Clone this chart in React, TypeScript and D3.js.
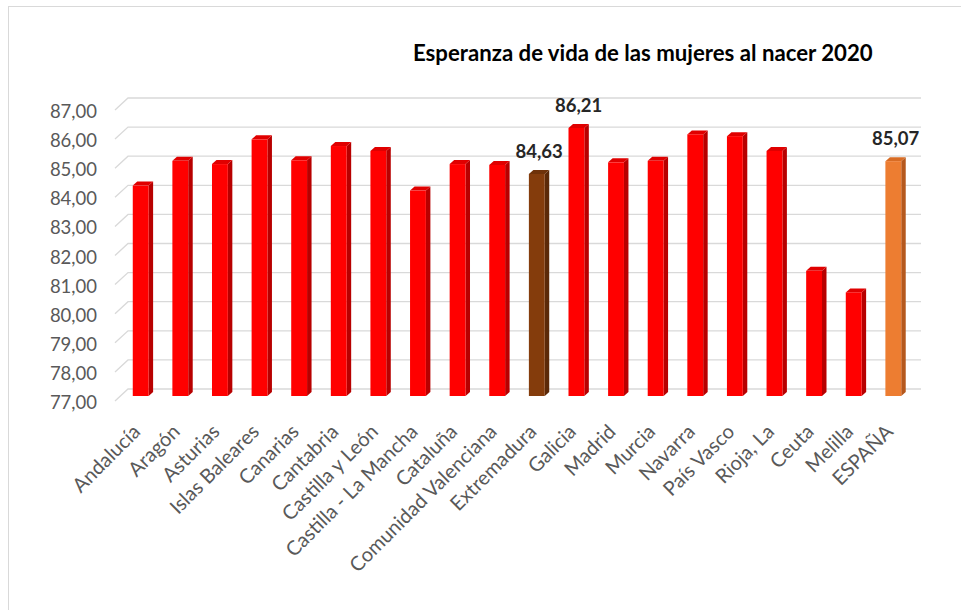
import { useMemo } from "react";
import * as d3 from "d3";

// Esperanza de vida de las mujeres al nacer 2020 — 3D-look column chart
const categories = [
  "Andalucía", "Aragón", "Asturias", "Islas Baleares", "Canarias", "Cantabria",
  "Castilla y León", "Castilla - La Mancha", "Cataluña", "Comunidad Valenciana",
  "Extremadura", "Galicia", "Madrid", "Murcia", "Navarra", "País Vasco",
  "Rioja, La", "Ceuta", "Melilla", "ESPAÑA",
];
const values = [
  84.23, 85.08, 84.97, 85.82, 85.1, 85.59, 85.42, 84.06, 84.97, 84.94,
  84.63, 86.21, 85.03, 85.08, 85.99, 85.93, 85.42, 81.3, 80.56, 85.07,
];
// categories whose value is written above the bar
const labelled = ["Extremadura", "Galicia", "ESPAÑA"];
const yTicks = [77, 78, 79, 80, 81, 82, 83, 84, 85, 86, 87];

const TITLE = "Esperanza de vida de las mujeres al nacer 2020";

// face colours: [front, side, top]
const RED = ["#ff0000", "#b80000", "#e00000"];
const BROWN = ["#843c0c", "#5c2908", "#6f320a"];
const ORANGE = ["#ed7d31", "#b5581d", "#d86c24"];
const colourFor = (c: string) =>
  c === "Extremadura" ? BROWN : c === "ESPAÑA" ? ORANGE : RED;

const fmt = (v: number) => v.toFixed(2).replace(".", ",");

export default function App() {
  const W = 961;
  const H = 610;

  // depth offsets of the fake 3D
  const wallDx = 13;
  const wallDy = 12;
  const barDx = 4.5;
  const barDy = 4;

  const x = useMemo(
    () => d3.scaleBand<string>().domain(categories).range([109, 925]).padding(0.6),
    [],
  );
  const y = useMemo(() => d3.scaleLinear().domain([77, 87]).range([396, 105]), []);
  const y0 = y(77);

  const font = "Lato, 'Open Sans', sans-serif";

  return (
    <svg
      width={W}
      height={H}
      viewBox={`0 0 ${W} ${H}`}
      style={{ position: "absolute", left: 0, top: 0, background: "#fff" }}
    >
      <rect x={8.5} y={6.5} width={W} height={H} fill="#fff" stroke="#d9d9d9" />

      <text
        x={413}
        y={61}
        fontFamily={font}
        fontWeight={700}
        fontSize={22.2}
        fill="#000"
      >
        {TITLE}
      </text>

      {/* back-wall gridlines with the slanted floor edge on the left */}
      <g stroke="#d9d9d9" strokeWidth={1.3} fill="none">
        {yTicks.map((t) => {
          const yb = y(t) - 7;
          return (
            <path
              key={t}
              d={`M115,${yb + wallDy}L${115 + wallDx},${yb}L921,${yb}`}
            />
          );
        })}
      </g>

      <g fontFamily={font} fontSize={18.5} fill="#595959" textAnchor="end">
        {yTicks.map((t) => (
          <text key={t} x={97} y={y(t) + 6} dominantBaseline="central">
            {fmt(t)}
          </text>
        ))}
      </g>

      {/* bars */}
      <g>
        {categories.map((c, i) => {
          const v = values[i];
          const bx = x(c)!;
          const bw = x.bandwidth();
          const top = y(v);
          const [front, side, topC] = colourFor(c);
          return (
            <g key={c}>
              <polygon
                points={`${bx + bw},${top} ${bx + bw + barDx},${top - barDy} ${bx + bw + barDx},${y0 - barDy} ${bx + bw},${y0}`}
                fill={side}
              />
              <polygon
                points={`${bx},${top} ${bx + barDx},${top - barDy} ${bx + bw + barDx},${top - barDy} ${bx + bw},${top}`}
                fill={topC}
              />
              <rect x={bx} y={top} width={bw} height={y0 - top} fill={front} />
            </g>
          );
        })}
      </g>

      {/* value labels */}
      <g fontFamily={font} fontWeight={700} fontSize={18.5} fill="#262626" textAnchor="middle">
        {categories.map((c, i) =>
          labelled.includes(c) ? (
            <text key={c} x={x(c)! + x.bandwidth() / 2 + barDx / 2} y={y(values[i]) - 16}>
              {fmt(values[i])}
            </text>
          ) : null,
        )}
      </g>

      {/* category labels, rotated */}
      <g fontFamily={font} fontSize={20} fill="#595959" textAnchor="end">
        {categories.map((c) => {
          const cx = x(c)! + x.bandwidth() / 2 - 4;
          const cy = y0 + 32;
          return (
            <text key={c} transform={`translate(${cx},${cy}) rotate(-45)`} dy="0.35em">
              {c}
            </text>
          );
        })}
      </g>
    </svg>
  );
}
